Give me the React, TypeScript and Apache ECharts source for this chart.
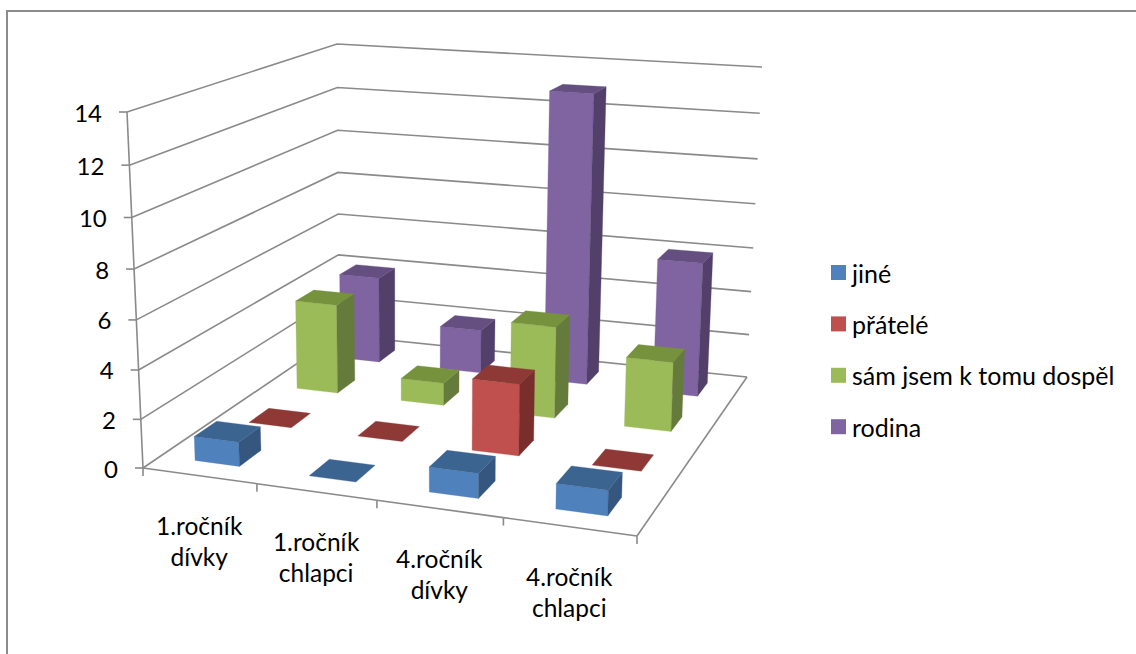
import React, { useEffect, useRef } from "react";
import * as echarts from "echarts";

const categories = ["1.ročník\ndívky", "1.ročník\nchlapci", "4.ročník\ndívky", "4.ročník\nchlapci"];
const yTicks = [0, 2, 4, 6, 8, 10, 12, 14];
const jine = [1, 0, 1, 1];
const pratele = [0, 0, 3, 0];
const sam = [4, 1, 4, 3];
const rodina = [4, 2, 13, 6];

const MAX = 14;
const FONT = "Lato, Carlito, sans-serif";
const AXIS = "#8a8a8a";
const K = 1.053; // perspective foreshortening of the vertical axis

type Pt = [number, number];
function homography(q: Pt[]) {
  const [p0, p1, p2, p3] = q;
  const dx1 = p1[0] - p2[0], dx2 = p3[0] - p2[0], sx = p0[0] - p1[0] + p2[0] - p3[0];
  const dy1 = p1[1] - p2[1], dy2 = p3[1] - p2[1], sy = p0[1] - p1[1] + p2[1] - p3[1];
  const den = dx1 * dy2 - dx2 * dy1;
  const g = (sx * dy2 - dx2 * sy) / den;
  const h = (dx1 * sy - sx * dy1) / den;
  const a = p1[0] - p0[0] + g * p1[0], b = p3[0] - p0[0] + h * p3[0], c = p0[0];
  const d = p1[1] - p0[1] + g * p1[1], e = p3[1] - p0[1] + h * p3[1], f = p0[1];
  return (u: number, v: number): Pt => {
    const w = g * u + h * v + 1;
    return [(a * u + b * v + c) / w, (d * u + e * v + f) / w];
  };
}
// The chart's 3D frame: corners front-left, front-right, back-right, back-left.
const floor = homography([[143, 468], [637, 536], [747, 377], [339, 335]]);
const ceil = homography([[127, 112], [648, 150], [762, 67], [337, 44]]);
const project = (u: number, v: number, val: number): Pt => {
  const a = floor(u, v), b = ceil(u, v), r = val / MAX;
  const t = r / (r + K * (1 - r));
  return [a[0] + (b[0] - a[0]) * t, a[1] + (b[1] - a[1]) * t];
};

const BAR_LO = 0.3, BAR_HI = 0.7;
function barSeries(name: string, values: number[], row: number, front: string, top: string, side: string) {
  return {
    type: "custom", name, coordinateSystem: "none", silent: true,
    itemStyle: { color: front },
    data: values.map((v, i) => [i, v]),
    renderItem: (_: any, api: any) => {
      const i = api.value(0), val = api.value(1);
      const u0 = (i + BAR_LO + 0.01) / 4, u1 = (i + BAR_HI + 0.005) / 4;
      const v0 = (row + BAR_LO) / 4, v1 = (row + BAR_HI) / 4;
      const poly = (points: Pt[], fill: string) => ({ type: "polygon", shape: { points }, style: { fill, stroke: fill, lineWidth: 0.3 } });
      const kids: any[] = [];
      if (val > 0) {
        kids.push(poly([project(u0, v0, 0), project(u1, v0, 0), project(u1, v0, val), project(u0, v0, val)], front));
        kids.push(poly([project(u1, v0, 0), project(u1, v1, 0), project(u1, v1, val), project(u1, v0, val)], side));
      }
      kids.push(poly([project(u0, v0, val), project(u1, v0, val), project(u1, v1, val), project(u0, v1, val)], top));
      return { type: "group", children: kids };
    },
  };
}

const frameSeries = {
  type: "custom", name: "frame", coordinateSystem: "none", silent: true,
  data: yTicks.map((t) => [t]),
  renderItem: (_: any, api: any) => {
    const t = api.value(0);
    const a = project(0, 0, t), b = project(0, 1, t), c = project(1, 1, t);
    const st = { stroke: AXIS, lineWidth: 1.6, fill: "none" };
    return {
      type: "group",
      children: [
        { type: "polyline", shape: { points: [a, b, c] }, style: st },
        { type: "line", shape: { x1: a[0] - 8, y1: a[1], x2: a[0], y2: a[1] }, style: st },
        { type: "text", style: { text: String(t), x: a[0] - 25, y: a[1], textAlign: "right", textVerticalAlign: "middle", fill: "#000", font: `24px ${FONT}` } },
      ],
    };
  },
};

const edgeSeries = {
  type: "custom", name: "edges", coordinateSystem: "none", silent: true,
  data: categories.map((_, i) => [i]),
  renderItem: (_: any, api: any) => {
    const i = api.value(0);
    const a = project(i / 4, 0, 0), b = project((i + 1) / 4, 0, 0);
    const st = { stroke: AXIS, lineWidth: 1.6, fill: "none" };
    const m = project((i + 0.5) / 4, 0, 0);
    const kids: any[] = [
      { type: "line", shape: { x1: a[0], y1: a[1], x2: b[0], y2: b[1] }, style: st },
      { type: "line", shape: { x1: b[0], y1: b[1], x2: b[0], y2: b[1] + 8 }, style: st },
      { type: "text", style: { text: categories[i], x: m[0], y: m[1] + 65, textAlign: "center", textVerticalAlign: "middle", lineHeight: 31, fill: "#000", font: `24.5px ${FONT}` } },
    ];
    if (i === 0) {
      const top = project(0, 0, MAX), fr = project(1, 0, 0), br = project(1, 1, 0);
      kids.push({ type: "line", shape: { x1: a[0], y1: a[1], x2: top[0], y2: top[1] }, style: st });
      kids.push({ type: "line", shape: { x1: a[0], y1: a[1], x2: a[0], y2: a[1] + 8 }, style: st });
      kids.push({ type: "line", shape: { x1: fr[0], y1: fr[1], x2: br[0], y2: br[1] }, style: st });
    }
    return { type: "group", children: kids };
  },
};

export default function App() {
  const ref = useRef<HTMLDivElement>(null);
  useEffect(() => {
    const chart = echarts.init(ref.current!, undefined, { renderer: "svg" });
    chart.setOption({
      animation: false,
      backgroundColor: "#fff",
      legend: {
        orient: "vertical", left: 831, top: 260, padding: 0, icon: "rect", itemWidth: 15, itemHeight: 15, itemGap: 26.4,
        data: ["jiné", "přátelé", "sám jsem k tomu dospěl", "rodina"],
        textStyle: { fontFamily: FONT, fontSize: 25, color: "#000", padding: [0, 0, 4, 1] },
        selectedMode: false,
      },
      graphic: [{ type: "polyline", shape: { points: [[7, 654], [7, 11], [1136, 11]] }, style: { stroke: "#8c8c8c", lineWidth: 2, fill: "none" } }],
      series: [
        frameSeries,
        edgeSeries,
        barSeries("rodina", rodina, 3, "#8064A2", "#644F80", "#523F6A"),
        barSeries("sám jsem k tomu dospěl", sam, 2, "#9BBB59", "#76923C", "#657B3B"),
        barSeries("přátelé", pratele, 1, "#C0504D", "#8E3936", "#7A2E2C"),
        barSeries("jiné", jine, 0, "#4F81BD", "#3C6491", "#34567F"),
      ],
    });
    return () => chart.dispose();
  }, []);
  return <div ref={ref} style={{ position: "absolute", left: 0, top: 0, width: 1136, height: 654 }} />;
}
